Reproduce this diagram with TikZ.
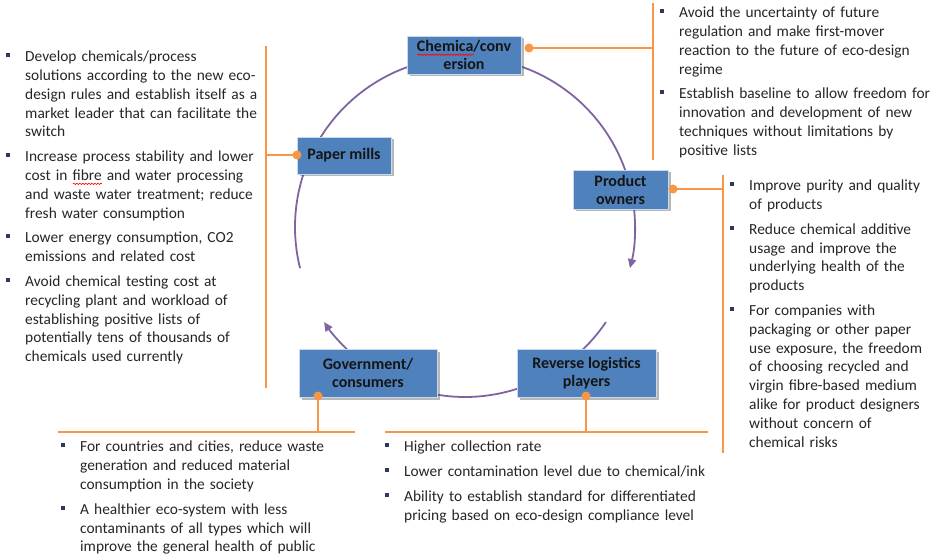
\documentclass[tikz,border=0pt]{standalone}
\usepackage{fontspec}
\setmainfont{Carlito}
\usetikzlibrary{arrows.meta,shadows,decorations.pathmorphing}

\definecolor{boxblue}{HTML}{4F81BD}
\definecolor{boxedge}{HTML}{C9D8EC}
\definecolor{ringpurple}{HTML}{8064A2}
\definecolor{linkorange}{HTML}{F79646}
\definecolor{bodytext}{HTML}{262626}
\definecolor{bulletnavy}{HTML}{2B3A5C}
\definecolor{boxtext}{HTML}{151515}

% red wavy spell-check underline below a word
\newsavebox{\wavebox}
\newcommand{\redwave}[1]{\sbox{\wavebox}{#1}%
  \rlap{\raisebox{-3.2pt}{\tikz[x=1cm,y=1cm,baseline=0pt]
    \draw[red, line width=0.6pt, decorate,
      decoration={snake, amplitude=0.7pt, segment length=3pt}]
      (0pt,0pt) -- (\wd\wavebox,0pt);}}\usebox{\wavebox}}
% square bullet with hanging indent; lines inside an item break with \nl
\newcommand{\bulsq}{\textcolor{bulletnavy}{\rule[4.5pt]{4pt}{4pt}}}
\newcommand{\bitem}{\par\hangindent=19pt\hangafter=1\noindent\makebox[19pt][l]{\bulsq}}
\newcommand{\nl}{\newline}

\tikzset{
  actor/.style={fill=boxblue, draw=boxedge, line width=0.8pt, text=boxtext,
    font=\fontsize{16}{18}\selectfont\bfseries, align=center, inner sep=0pt,
    drop shadow={shadow xshift=2.5pt, shadow yshift=-2.5pt, opacity=0.4, fill=black!70}},
  ring/.style={draw=ringpurple, line width=1.8pt},
  ringarrow/.style={ring, -{Triangle[length=9pt,width=8pt]}},
  link/.style={draw=linkorange, line width=1.8pt},
  notes/.style={anchor=north west, inner sep=0pt, text width=320pt, align=left,
    text=bodytext, font=\fontsize{15.4}{18.8}\selectfont\setlength{\parskip}{6pt}},
}

\newcommand{\dotat}[1]{\fill[linkorange] (#1) circle[radius=4.5pt];}

\begin{document}
\begin{tikzpicture}[x=1pt, y=-1pt]
\fill[white] (0,0) rectangle (932,556);
\useasboundingbox (0,0) rectangle (932,556);

% the cycle ring, drawn first so the boxes sit on top of it
\coordinate (ctr) at (465,227);
\draw[ring] (ctr) ++(252:170) arc[start angle=252, end angle=208, radius=170];
\draw[ring] (ctr) ++(200:170) arc[start angle=200, end angle=166, radius=170];
\draw[ringarrow] (ctr) ++(133:170) arc[start angle=133, end angle=146, radius=170];
\draw[ring] (ctr) ++(102:170) arc[start angle=102, end angle=70, radius=170];
\draw[ring] (ctr) ++(48:170) arc[start angle=48, end angle=34, radius=170];
\draw[ringarrow] (ctr) ++(-8:170) arc[start angle=-8, end angle=14, radius=170];
\draw[ring] (ctr) ++(-72:170) arc[start angle=-72, end angle=-18, radius=170];

% stakeholder boxes
\node[actor, minimum width=114pt, minimum height=38pt] (chem) at (464,55)
  {\redwave{Chemica}/conv\\ersion};
\node[actor, minimum width=94pt, minimum height=37pt] (paper) at (344,155.5)
  {Paper mills};
\node[actor, minimum width=95pt, minimum height=39pt] (prod) at (620.5,189.5)
  {Product\\owners};
\node[actor, minimum width=139pt, minimum height=48pt] (rev) at (586.5,373)
  {Reverse logistics\\players};
\node[actor, minimum width=138pt, minimum height=48pt] (gov) at (368,373)
  {Government/\\consumers};

% orange brackets linking each box to its benefits
\coordinate (chemdot) at (529,48);
\coordinate (chemjoin) at (653,48);
\coordinate (chemtop) at (653,3);
\coordinate (chembot) at (653,160);
\draw[link] (chemdot) -- (chemjoin);
\draw[link] (chemtop) -- (chembot);
\dotat{chemdot}

\coordinate (paperdot) at (297,155);
\coordinate (paperjoin) at (266,155);
\coordinate (papertop) at (266,46);
\coordinate (paperbot) at (266,388);
\draw[link] (paperdot) -- (paperjoin);
\draw[link] (papertop) -- (paperbot);
\dotat{paperdot}

\coordinate (proddot) at (673,189);
\coordinate (prodjoin) at (723,189);
\coordinate (prodtop) at (723,175);
\coordinate (prodbot) at (723,453);
\draw[link] (proddot) -- (prodjoin);
\draw[link] (prodtop) -- (prodbot);
\dotat{proddot}

\coordinate (revdot) at (586,396);
\coordinate (revjoin) at (586,432);
\coordinate (revleft) at (385,432);
\coordinate (revright) at (708,432);
\draw[link] (revdot) -- (revjoin);
\draw[link] (revleft) -- (revright);
\dotat{revdot}

\coordinate (govdot) at (318,396);
\coordinate (govjoin) at (318,432);
\coordinate (govleft) at (58,432);
\coordinate (govright) at (355,432);
\draw[link] (govdot) -- (govjoin);
\draw[link] (govleft) -- (govright);
\dotat{govdot}

% benefit lists
\node[notes] (papernotes) at (6,36.8) {%
\bitem\strut Develop chemicals/process\nl solutions according to the new eco-\nl design rules and establish itself as a\nl market leader that can facilitate the\nl switch
\bitem Increase process stability and lower\nl cost in \redwave{fibre} and water processing\nl and waste water treatment; reduce\nl fresh water consumption
\bitem Lower energy consumption, CO2\nl emissions and related cost
\bitem Avoid chemical testing cost at\nl recycling plant and workload of\nl establishing positive lists of\nl potentially tens of thousands of\nl chemicals used currently\par};

\node[notes] (chemnotes) at (660,-7.2) {%
\bitem\strut Avoid the uncertainty of future\nl regulation and make first-mover\nl reaction to the future of eco-design\nl regime
\bitem Establish baseline to allow freedom for\nl innovation and development of new\nl techniques without limitations by\nl positive lists\par};

\node[notes] (prodnotes) at (730,165.8) {%
\bitem\strut Improve purity and quality\nl of products
\bitem Reduce chemical additive\nl usage and improve the\nl underlying health of the\nl products
\bitem For companies with\nl packaging or other paper\nl use exposure, the freedom\nl of choosing recycled and\nl virgin fibre-based medium\nl alike for product designers\nl without concern of\nl chemical risks\par};

\node[notes] (govnotes) at (61,426.8) {%
\bitem\strut For countries and cities, reduce waste\nl generation and reduced material\nl consumption in the society
\bitem A healthier eco-system with less\nl contaminants of all types which will\nl improve the general health of public\par};

\node[notes] (revnotes) at (385,426.8) {%
\bitem\strut Higher collection rate
\bitem Lower contamination level due to chemical/ink
\bitem Ability to establish standard for differentiated\nl pricing based on eco-design compliance level\par};
\end{tikzpicture}
\end{document}
